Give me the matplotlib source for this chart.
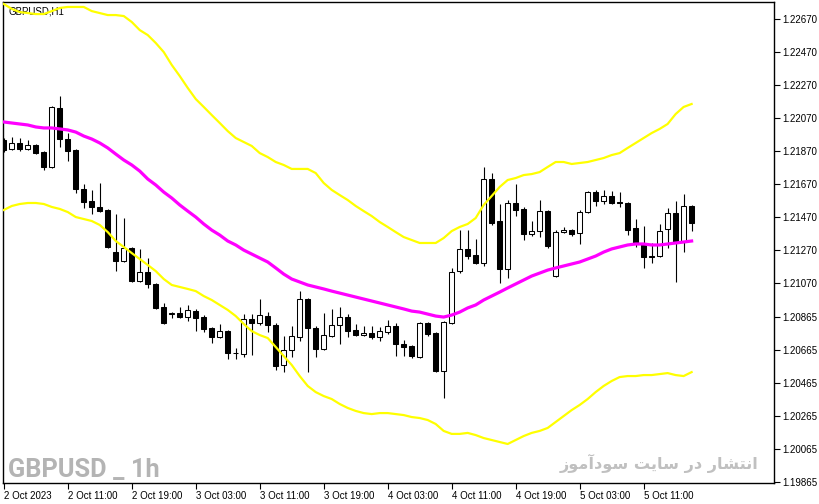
"""GBPUSD H1 candlestick chart with a moving average and two bands,
drawn in the look of a MetaTrader chart window.
"""

import matplotlib
import matplotlib.pyplot as plt

matplotlib.use("Agg")

# hourly candles, 2 Oct 2023 03:00 -> 5 Oct 2023 17:00
opens = [
    1.21938, 1.21884, 1.21920, 1.21884, 1.21908, 1.21865, 1.21775, 1.22132,
    1.21944, 1.21878, 1.21642, 1.21569, 1.21533, 1.21515, 1.21260, 1.21206,
    1.21285, 1.21085, 1.21139, 1.21067, 1.20928, 1.20885, 1.20891, 1.20867,
    1.20903, 1.20867, 1.20801, 1.20746, 1.20782, 1.20649, 1.20643, 1.20855,
    1.20831, 1.20873, 1.20819, 1.20577, 1.20667, 1.20746, 1.20976, 1.20801,
    1.20674, 1.20752, 1.20819, 1.20867, 1.20788, 1.20758, 1.20770, 1.20746,
    1.20776, 1.20813, 1.20704, 1.20692, 1.20625, 1.20831, 1.20770, 1.20540,
    1.20831, 1.21145, 1.21279, 1.21242, 1.21194, 1.21702, 1.21448, 1.21158,
    1.21557, 1.21521, 1.21369, 1.21388, 1.21508, 1.21115, 1.21381, 1.21393,
    1.21375, 1.21502, 1.21623, 1.21569, 1.21599, 1.21563, 1.21557, 1.21406,
    1.21309, 1.21236, 1.21236, 1.21400, 1.21496, 1.21321, 1.21539,
]
highs = [
    1.21950, 1.21956, 1.21950, 1.21938, 1.21914, 1.21871, 1.22144, 1.22204,
    1.21980, 1.21884, 1.21672, 1.21636, 1.21678, 1.21521, 1.21490, 1.21466,
    1.21291, 1.21279, 1.21224, 1.21073, 1.20952, 1.20897, 1.20928, 1.20940,
    1.20916, 1.20879, 1.20807, 1.20825, 1.20788, 1.20680, 1.20885, 1.20885,
    1.20976, 1.20897, 1.20831, 1.20752, 1.20813, 1.21024, 1.20982, 1.20813,
    1.20891, 1.20916, 1.20928, 1.20885, 1.20825, 1.20813, 1.20813, 1.20807,
    1.20849, 1.20831, 1.20728, 1.20698, 1.20837, 1.20837, 1.20776, 1.20843,
    1.21164, 1.21393, 1.21393, 1.21339, 1.21775, 1.21738, 1.21551, 1.21575,
    1.21672, 1.21533, 1.21448, 1.21575, 1.21515, 1.21393, 1.21412, 1.21399,
    1.21515, 1.21629, 1.21636, 1.21636, 1.21629, 1.21623, 1.21563, 1.21460,
    1.21418, 1.21315, 1.21430, 1.21527, 1.21569, 1.21611, 1.21545,
]
lows = [
    1.21865, 1.21878, 1.21871, 1.21878, 1.21853, 1.21756, 1.21769, 1.21896,
    1.21811, 1.21617, 1.21527, 1.21490, 1.21502, 1.21285, 1.21145, 1.21200,
    1.21079, 1.21079, 1.21043, 1.20916, 1.20825, 1.20861, 1.20861, 1.20843,
    1.20782, 1.20776, 1.20710, 1.20740, 1.20613, 1.20613, 1.20625, 1.20637,
    1.20819, 1.20776, 1.20546, 1.20534, 1.20625, 1.20722, 1.20534, 1.20625,
    1.20667, 1.20746, 1.20704, 1.20746, 1.20752, 1.20752, 1.20734, 1.20722,
    1.20764, 1.20631, 1.20631, 1.20619, 1.20619, 1.20752, 1.20534, 1.20377,
    1.20825, 1.21133, 1.21218, 1.21188, 1.21176, 1.21424, 1.21073, 1.21103,
    1.21478, 1.21333, 1.21357, 1.21351, 1.21285, 1.21109, 1.21375, 1.21357,
    1.21309, 1.21496, 1.21539, 1.21551, 1.21551, 1.21533, 1.21363, 1.21291,
    1.21164, 1.21194, 1.21230, 1.21285, 1.21079, 1.21260, 1.21388,
]
closes = [
    1.21878, 1.21920, 1.21884, 1.21908, 1.21859, 1.21775, 1.22138, 1.21944,
    1.21871, 1.21642, 1.21563, 1.21533, 1.21508, 1.21291, 1.21206, 1.21285,
    1.21085, 1.21139, 1.21067, 1.20922, 1.20831, 1.20891, 1.20867, 1.20910,
    1.20861, 1.20795, 1.20746, 1.20782, 1.20649, 1.20652, 1.20855, 1.20831,
    1.20879, 1.20819, 1.20571, 1.20667, 1.20752, 1.20976, 1.20801, 1.20674,
    1.20758, 1.20819, 1.20867, 1.20782, 1.20758, 1.20770, 1.20746, 1.20782,
    1.20813, 1.20704, 1.20686, 1.20631, 1.20831, 1.20764, 1.20540, 1.20837,
    1.21139, 1.21279, 1.21236, 1.21194, 1.21702, 1.21436, 1.21158, 1.21557,
    1.21515, 1.21369, 1.21388, 1.21508, 1.21297, 1.21381, 1.21393, 1.21369,
    1.21502, 1.21623, 1.21569, 1.21599, 1.21557, 1.21557, 1.21393, 1.21309,
    1.21230, 1.21230, 1.21388, 1.21496, 1.21321, 1.21539, 1.21436,
]

# moving average (magenta) and the two bands (yellow)
ma_line = [
    1.22047, 1.22041, 1.22035, 1.22029, 1.22017, 1.22011, 1.22011, 1.22005,
    1.21999, 1.21986, 1.21962, 1.21944, 1.21920, 1.21890, 1.21853, 1.21817,
    1.21787, 1.21750, 1.21702, 1.21666, 1.21623, 1.21587, 1.21545, 1.21508,
    1.21472, 1.21430, 1.21393, 1.21363, 1.21327, 1.21303, 1.21272, 1.21248,
    1.21224, 1.21200, 1.21164, 1.21127, 1.21097, 1.21079, 1.21061, 1.21049,
    1.21037, 1.21024, 1.21012, 1.21000, 1.20988, 1.20976, 1.20964, 1.20952,
    1.20940, 1.20928, 1.20916, 1.20903, 1.20897, 1.20885, 1.20873, 1.20867,
    1.20879, 1.20897, 1.20922, 1.20940, 1.20970, 1.20994, 1.21018, 1.21043,
    1.21067, 1.21091, 1.21115, 1.21133, 1.21151, 1.21164, 1.21176, 1.21188,
    1.21200, 1.21218, 1.21236, 1.21260, 1.21279, 1.21291, 1.21303, 1.21309,
    1.21309, 1.21303, 1.21303, 1.21309, 1.21315, 1.21321, 1.21327,
]
upper_band = [
    1.22761, 1.22731, 1.22712, 1.22706, 1.22700, 1.22700, 1.22718, 1.22737,
    1.22743, 1.22743, 1.22743, 1.22718, 1.22706, 1.22694, 1.22694, 1.22688,
    1.22652, 1.22603, 1.22573, 1.22525, 1.22470, 1.22392, 1.22325, 1.22253,
    1.22186, 1.22138, 1.22089, 1.22041, 1.21992, 1.21950, 1.21926, 1.21902,
    1.21859, 1.21835, 1.21805, 1.21787, 1.21763, 1.21763, 1.21763, 1.21738,
    1.21678, 1.21636, 1.21605, 1.21575, 1.21539, 1.21508, 1.21478, 1.21442,
    1.21412, 1.21381, 1.21351, 1.21333, 1.21315, 1.21315, 1.21315, 1.21345,
    1.21387, 1.21412, 1.21430, 1.21466, 1.21545, 1.21599, 1.21654, 1.21696,
    1.21708, 1.21726, 1.21732, 1.21744, 1.21775, 1.21805, 1.21805, 1.21793,
    1.21799, 1.21805, 1.21817, 1.21829, 1.21847, 1.21859, 1.21890, 1.21920,
    1.21950, 1.21980, 1.22005, 1.22035, 1.22095, 1.22138, 1.22156,
]
lower_band = [
    1.21515, 1.21539, 1.21551, 1.21557, 1.21557, 1.21551, 1.21533, 1.21521,
    1.21502, 1.21472, 1.21460, 1.21448, 1.21424, 1.21381, 1.21327, 1.21291,
    1.21254, 1.21218, 1.21182, 1.21145, 1.21097, 1.21061, 1.21049, 1.21037,
    1.21024, 1.20994, 1.20970, 1.20940, 1.20910, 1.20873, 1.20825, 1.20782,
    1.20758, 1.20740, 1.20686, 1.20631, 1.20577, 1.20510, 1.20450, 1.20413,
    1.20389, 1.20371, 1.20341, 1.20317, 1.20299, 1.20286, 1.20280, 1.20286,
    1.20286, 1.20280, 1.20274, 1.20262, 1.20256, 1.20244, 1.20220, 1.20178,
    1.20160, 1.20160, 1.20166, 1.20153, 1.20135, 1.20123, 1.20111, 1.20099,
    1.20123, 1.20147, 1.20166, 1.20178, 1.20196, 1.20232, 1.20268, 1.20304,
    1.20335, 1.20371, 1.20413, 1.20450, 1.20480, 1.20504, 1.20510, 1.20510,
    1.20516, 1.20516, 1.20522, 1.20528, 1.20516, 1.20510, 1.20534,
]

# axis labels as the terminal prints them
price_labels = [
    "1.22670", "1.22470", "1.22270", "1.22070", "1.21870", "1.21670",
    "1.21470", "1.21270", "1.21070", "1.20865", "1.20665", "1.20465",
    "1.20265", "1.20065", "1.19865",
]
time_labels = [
    "2 Oct 2023", "2 Oct 11:00", "2 Oct 19:00", "3 Oct 03:00", "3 Oct 11:00",
    "3 Oct 19:00", "4 Oct 03:00", "4 Oct 11:00", "4 Oct 19:00", "5 Oct 03:00",
    "5 Oct 11:00",
]

symbol_title = "GBPUSD,H1"
watermark_left = "GBPUSD _ 1h"
watermark_right = "انتشار در سایت سودآموز"

# presentation forms (isolated, final, initial, medial) for the letters used
ARABIC_FORMS = {
    "ا": ("\ufe8d", "\ufe8e", None, None),
    "آ": ("\ufe81", "\ufe82", None, None),
    "ن": ("\ufee5", "\ufee6", "\ufee7", "\ufee8"),
    "ت": ("\ufe95", "\ufe96", "\ufe97", "\ufe98"),
    "ش": ("\ufeb5", "\ufeb6", "\ufeb7", "\ufeb8"),
    "ر": ("\ufead", "\ufeae", None, None),
    "د": ("\ufea9", "\ufeaa", None, None),
    "س": ("\ufeb1", "\ufeb2", "\ufeb3", "\ufeb4"),
    "ی": ("\ufbfc", "\ufbfd", "\ufbfe", "\ufbff"),
    "و": ("\ufeed", "\ufeee", None, None),
    "م": ("\ufee1", "\ufee2", "\ufee3", "\ufee4"),
    "ز": ("\ufeaf", "\ufeb0", None, None),
}


def shape_persian(text):
    """matplotlib has no arabic shaping, so join the letters by hand
    and return them in visual (right to left) order"""
    out = []
    for k, ch in enumerate(text):
        if ch not in ARABIC_FORMS:
            out.append(ch)
            continue
        prev = text[k - 1] if k > 0 else ""
        nxt = text[k + 1] if k + 1 < len(text) else ""
        iso, fin, ini, med = ARABIC_FORMS[ch]
        joins_prev = prev in ARABIC_FORMS and ARABIC_FORMS[prev][2] is not None
        joins_next = nxt in ARABIC_FORMS and ini is not None
        if joins_prev and joins_next:
            out.append(med)
        elif joins_prev:
            out.append(fin)
        elif joins_next:
            out.append(ini)
        else:
            out.append(iso)
    return "".join(reversed(out))


def narrowest_bold_family(fig, text):
    """the watermark is set in a narrow bold face, take the narrowest one
    that is installed"""
    renderer = fig.canvas.get_renderer()
    best, best_w = "DejaVu Sans", None
    for fam in ["Roboto", "Liberation Sans", "Lato", "Open Sans",
                "Inter", "Noto Sans", "DejaVu Sans"]:
        t = fig.text(0, 0, text, fontsize=20, fontweight="bold", family=fam)
        w = t.get_window_extent(renderer).width
        t.remove()
        if best_w is None or w < best_w:
            best, best_w = fam, w
    return best


def fit_width(fig, txt, width_px):
    fig.canvas.draw()
    w = txt.get_window_extent(fig.canvas.get_renderer()).width
    txt.set_fontsize(txt.get_fontsize() * width_px / w)


def draw_candles(ax):
    bars = range(len(opens))
    ax.vlines(bars, lows, highs, color="black", linewidth=0.8, zorder=2)
    bottoms = [min(o, c) for o, c in zip(opens, closes)]
    heights = [max(abs(c - o), 0.000008) for o, c in zip(opens, closes)]
    fills = ["white" if c >= o else "black" for o, c in zip(opens, closes)]
    ax.bar(
        bars, heights, bottom=bottoms, width=0.62, color=fills,
        edgecolor="black", linewidth=0.75, zorder=3,
    )


def main():
    fig = plt.figure(figsize=(8.2, 5.04), dpi=100)
    ax = fig.add_axes([3 / 820, 21 / 504, 771 / 820, 481 / 504])
    ax.set_facecolor("white")

    draw_candles(ax)

    bars = range(len(ma_line))
    ax.plot(bars, upper_band, color="#ffff00", linewidth=1.6, zorder=4)
    ax.plot(bars, lower_band, color="#ffff00", linewidth=1.6, zorder=4)
    ax.plot(bars, ma_line, color="#ff00ff", linewidth=2.3, zorder=5)

    ax.set_xlim(-0.1, 96.3)
    ax.set_ylim(1.19863, 1.22773)

    # price scale on the right
    ax.yaxis.tick_right()
    ax.set_yticks([1.22670 - 0.002 * k for k in range(len(price_labels))])
    ax.set_yticklabels(price_labels)
    ax.tick_params(
        axis="y", direction="out", length=4, width=0.8, pad=2,
        labelsize=7, labelfontfamily="Liberation Sans",
    )

    # time scale, labels start at the tick like in the terminal
    ax.set_xticks(range(0, 8 * len(time_labels), 8))
    ax.set_xticklabels(time_labels, ha="left")
    ax.tick_params(
        axis="x", direction="out", length=4, width=0.8, pad=2,
        labelsize=7, labelfontfamily="Liberation Sans",
    )

    for spine in ax.spines.values():
        spine.set_linewidth(1.0)
        spine.set_color("black")

    ax.text(
        6 / 771, 1 - 9 / 481, symbol_title, transform=ax.transAxes,
        fontsize=7, family="Liberation Sans", va="center", ha="left",
        zorder=1,
    )

    wm_family = narrowest_bold_family(fig, watermark_left)
    left_txt = fig.text(
        8 / 820, 1 - 477 / 504, watermark_left, fontsize=25,
        fontweight="bold", color="#b4b4b4",
        va="baseline", ha="left", family=[wm_family, "DejaVu Sans"],
        zorder=6,
    )
    right_txt = fig.text(
        758 / 820, 1 - 469 / 504, shape_persian(watermark_right),
        fontsize=14, fontweight="bold", color="#c0c0c0",
        va="baseline", ha="right", family=["DejaVu Sans"], zorder=6,
    )
    fit_width(fig, left_txt, 152)
    fit_width(fig, right_txt, 200)

    fig.savefig("out.png", dpi=100)
    print("Plot saved as 'out.png'")


if __name__ == "__main__":
    main()
